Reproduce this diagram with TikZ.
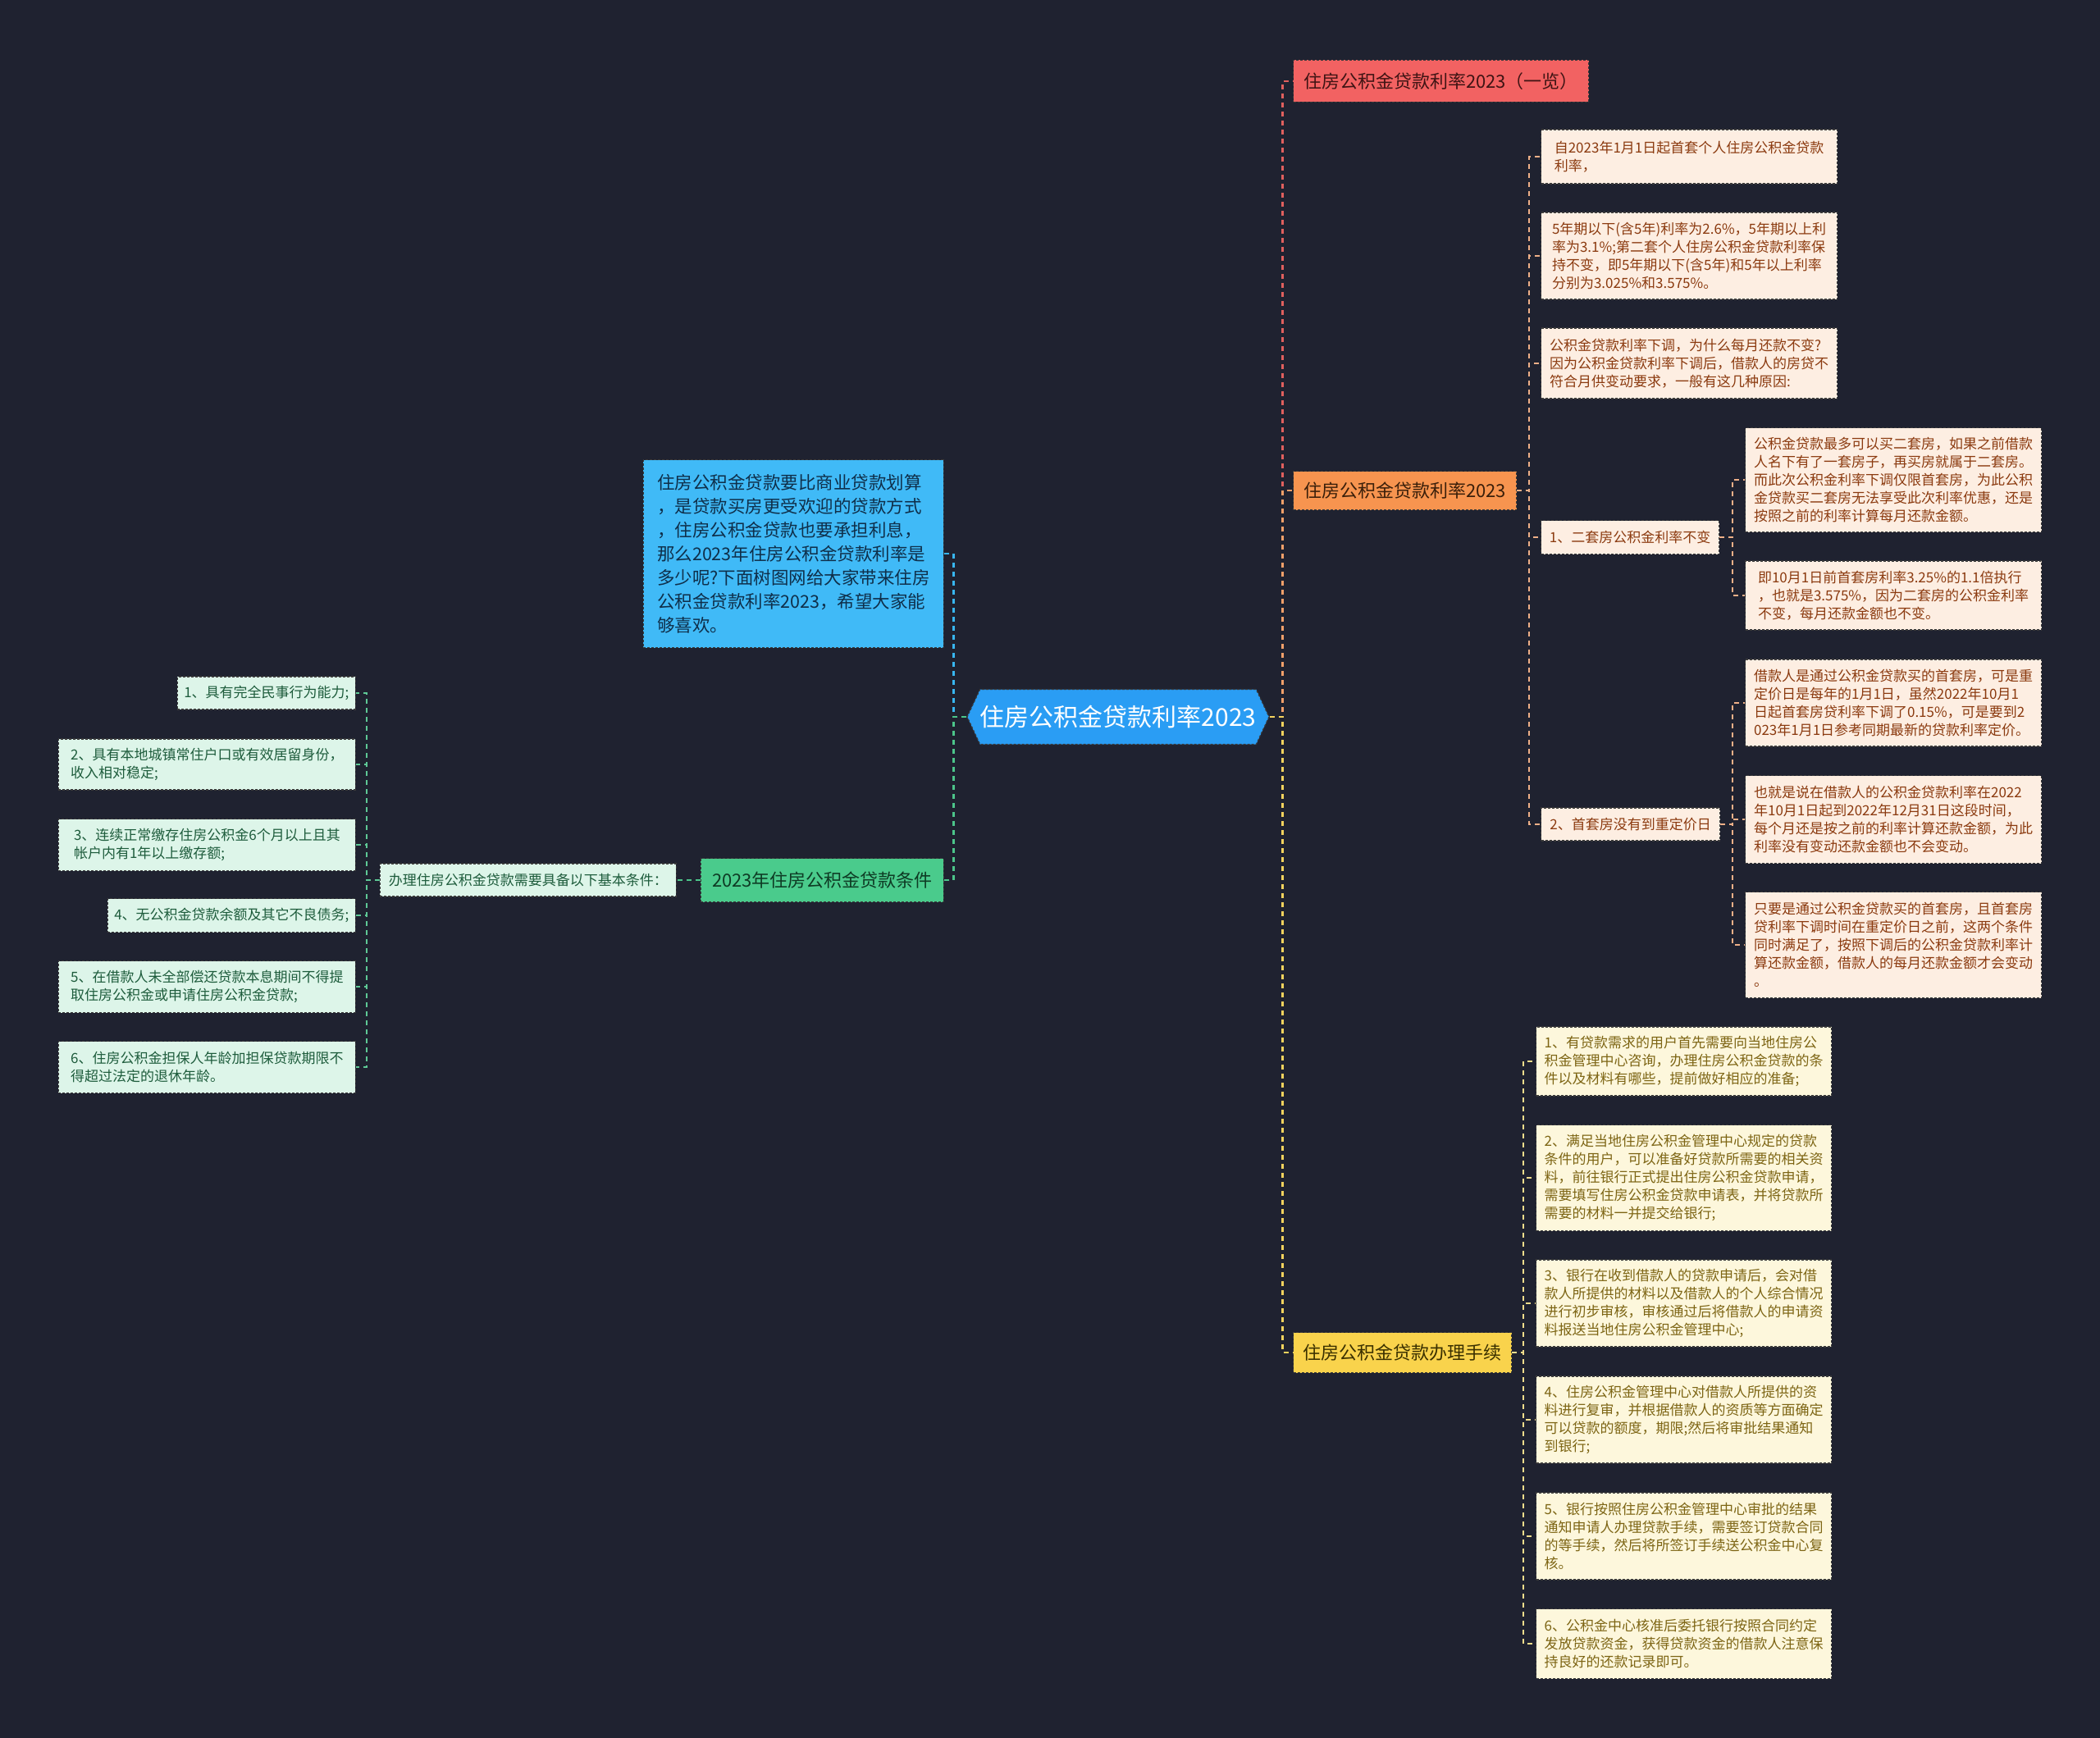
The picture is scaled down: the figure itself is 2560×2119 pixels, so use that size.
\documentclass[tikz,border=0pt]{standalone}
\usepackage{fontspec}
\setmainfont{Noto Sans CJK SC}
\usetikzlibrary{shapes.symbols}
\definecolor{bg}{HTML}{1F2230}
\definecolor{cfill}{HTML}{2A9DF4}
\definecolor{redfill}{HTML}{F26262}
\definecolor{redtext}{HTML}{3F1414}
\definecolor{orafill}{HTML}{F7944F}
\definecolor{oratext}{HTML}{3A1F0A}
\definecolor{yelfill}{HTML}{F9D34C}
\definecolor{yeltext}{HTML}{3A3000}
\definecolor{grnfill}{HTML}{4ACB8C}
\definecolor{grntext}{HTML}{0E3B24}
\definecolor{blufill}{HTML}{40BAF7}
\definecolor{blutext}{HTML}{0F2F4A}
\definecolor{leafOfill}{HTML}{FDEEE2}
\definecolor{leafOtext}{HTML}{8B3A0F}
\definecolor{leafYfill}{HTML}{FDF7DC}
\definecolor{leafYtext}{HTML}{7D6514}
\definecolor{leafGfill}{HTML}{DDF5E9}
\definecolor{leafGtext}{HTML}{1E5C3C}
\definecolor{redline}{HTML}{E0605E}
\definecolor{oraline}{HTML}{F2A06A}
\definecolor{yelline}{HTML}{F4D35E}
\definecolor{bluline}{HTML}{38B6F0}
\definecolor{grnline}{HTML}{4CC58A}
\definecolor{oleafline}{HTML}{EFB088}
\definecolor{yleafline}{HTML}{F3DD8C}
\definecolor{gleafline}{HTML}{5EC996}
\definecolor{edge}{HTML}{3A3A3A}
\newcommand\fsleaf{\fontsize{17}{22}\selectfont}
\newcommand\fsmain{\fontsize{22}{28}\selectfont}
\newcommand\fsblue{\fontsize{21.5}{29}\selectfont}
\newcommand\fscenter{\fontsize{30}{36}\selectfont}
\begin{document}
\begin{tikzpicture}[x=1pt,y=-1pt,
  box/.style={draw=edge, line width=1.1pt, dash pattern=on 3pt off 2pt, align=left, inner xsep=8pt, inner ysep=0pt},
  leafO/.style={box, fill=leafOfill, text=leafOtext, font=\fsleaf, anchor=west},
  leafY/.style={box, fill=leafYfill, text=leafYtext, font=\fsleaf, anchor=west, minimum width=360},
  leafG/.style={box, fill=leafGfill, text=leafGtext, font=\fsleaf, anchor=east},
  mainbox/.style={box, font=\fsmain, align=center},
  conn/.style={line width=2.2pt, dash pattern=on 6pt off 5pt}
]
\fill[bg] (0,0) rectangle (2560,2119);

% center
\node[signal, signal to=west and east, signal pointer angle=130, fill=cfill, draw=edge, line width=1.1pt, dash pattern=on 3pt off 2pt, text=white, font=\fscenter, minimum width=363, minimum height=67, inner sep=0pt] (c) at (1363,874) {住房公积金贷款利率2023};

% main branches right
\node[mainbox, fill=redfill, text=redtext, minimum width=360, minimum height=51, anchor=west] (r) at (1576,99) {住房公积金贷款利率2023（一览）};
\node[mainbox, fill=orafill, text=oratext, minimum width=272, minimum height=47, anchor=west] (o) at (1576,598) {住房公积金贷款利率2023};
\node[mainbox, fill=yelfill, text=yeltext, minimum width=266, minimum height=49, anchor=west] (y) at (1576,1649) {住房公积金贷款办理手续};

% main branches left
\node[box, fill=blufill, text=blutext, font=\fsblue, minimum width=366, minimum height=229, anchor=east] (b) at (1151,675) {住房公积金贷款要比商业贷款划算\\，是贷款买房更受欢迎的贷款方式\\，住房公积金贷款也要承担利息，\\那么2023年住房公积金贷款利率是\\多少呢?下面树图网给大家带来住房\\公积金贷款利率2023，希望大家能\\够喜欢。};
\node[mainbox, fill=grnfill, text=grntext, minimum width=296, minimum height=53, anchor=east] (g) at (1151,1073) {2023年住房公积金贷款条件};
\node[box, fill=leafGfill, text=leafGtext, font=\fsleaf, minimum width=361, minimum height=40, anchor=east] (gl) at (825,1073) {办理住房公积金贷款需要具备以下基本条件：};

% green leaves
\node[leafG, minimum height=40] (L1) at (434,845) {1、具有完全民事行为能力;};
\node[leafG, minimum width=362, minimum height=62] (L2) at (434,932) {2、具有本地城镇常住户口或有效居留身份，\\收入相对稳定;};
\node[leafG, minimum width=362, minimum height=63] (L3) at (434,1030) {3、连续正常缴存住房公积金6个月以上且其\\帐户内有1年以上缴存额;};
\node[leafG, minimum height=41] (L4) at (434,1116) {4、无公积金贷款余额及其它不良债务;};
\node[leafG, minimum width=362, minimum height=63] (L5) at (434,1203) {5、在借款人未全部偿还贷款本息期间不得提\\取住房公积金或申请住房公积金贷款;};
\node[leafG, minimum width=362, minimum height=63] (L6) at (434,1301) {6、住房公积金担保人年龄加担保贷款期限不\\得超过法定的退休年龄。};

% orange leaves
\node[leafO, minimum width=361, minimum height=66] (O1) at (1878,191) {自2023年1月1日起首套个人住房公积金贷款\\利率，};
\node[leafO, minimum width=361, minimum height=106] (O2) at (1878,312) {5年期以下(含5年)利率为2.6\%，5年期以上利\\率为3.1\%;第二套个人住房公积金贷款利率保\\持不变，即5年期以下(含5年)和5年以上利率\\分别为3.025\%和3.575\%。};
\node[leafO, minimum width=361, minimum height=86] (O3) at (1878,443) {公积金贷款利率下调，为什么每月还款不变?\\因为公积金贷款利率下调后，借款人的房贷不\\符合月供变动要求，一般有这几种原因:};
\node[leafO, minimum width=217, minimum height=41] (O4) at (1878,655) {1、二套房公积金利率不变};
\node[leafO, minimum width=361, minimum height=127] (O4a) at (2127,585) {公积金贷款最多可以买二套房，如果之前借款\\人名下有了一套房子，再买房就属于二套房。\\而此次公积金利率下调仅限首套房，为此公积\\金贷款买二套房无法享受此次利率优惠，还是\\按照之前的利率计算每月还款金额。};
\node[leafO, minimum width=361, minimum height=84] (O4b) at (2127,726) {即10月1日前首套房利率3.25\%的1.1倍执行\\，也就是3.575\%，因为二套房的公积金利率\\不变，每月还款金额也不变。};
\node[leafO, minimum width=218, minimum height=40] (O5) at (1878,1005) {2、首套房没有到重定价日};
\node[leafO, minimum width=361, minimum height=106] (O5a) at (2127,857) {借款人是通过公积金贷款买的首套房，可是重\\定价日是每年的1月1日，虽然2022年10月1\\日起首套房贷利率下调了0.15\%，可是要到2\\023年1月1日参考同期最新的贷款利率定价。};
\node[leafO, minimum width=361, minimum height=107] (O5b) at (2127,999) {也就是说在借款人的公积金贷款利率在2022\\年10月1日起到2022年12月31日这段时间，\\每个月还是按之前的利率计算还款金额，为此\\利率没有变动还款金额也不会变动。};
\node[leafO, minimum width=361, minimum height=129] (O5c) at (2127,1152) {只要是通过公积金贷款买的首套房，且首套房\\贷利率下调时间在重定价日之前，这两个条件\\同时满足了，按照下调后的公积金贷款利率计\\算还款金额，借款人的每月还款金额才会变动\\。};

% yellow leaves
\node[leafY, minimum height=84] (Y1) at (1872,1294) {1、有贷款需求的用户首先需要向当地住房公\\积金管理中心咨询，办理住房公积金贷款的条\\件以及材料有哪些，提前做好相应的准备;};
\node[leafY, minimum height=129] (Y2) at (1872,1436) {2、满足当地住房公积金管理中心规定的贷款\\条件的用户，可以准备好贷款所需要的相关资\\料，前往银行正式提出住房公积金贷款申请，\\需要填写住房公积金贷款申请表，并将贷款所\\需要的材料一并提交给银行;};
\node[leafY, minimum height=106] (Y3) at (1872,1589) {3、银行在收到借款人的贷款申请后，会对借\\款人所提供的材料以及借款人的个人综合情况\\进行初步审核，审核通过后将借款人的申请资\\料报送当地住房公积金管理中心;};
\node[leafY, minimum height=106] (Y4) at (1872,1731) {4、住房公积金管理中心对借款人所提供的资\\料进行复审，并根据借款人的资质等方面确定\\可以贷款的额度，期限;然后将审批结果通知\\到银行;};
\node[leafY, minimum height=106] (Y5) at (1872,1873) {5、银行按照住房公积金管理中心审批的结果\\通知申请人办理贷款手续，需要签订贷款合同\\的等手续，然后将所签订手续送公积金中心复\\核。};
\node[leafY, minimum height=85] (Y6) at (1872,2004) {6、公积金中心核准后委托银行按照合同约定\\发放贷款资金，获得贷款资金的借款人注意保\\持良好的还款记录即可。};

% connectors
\draw[conn, redline] (c.east) -- ++(16,0) |- (r.west);
\draw[conn, oraline] (c.east) -- ++(16,0) |- (o.west);
\draw[conn, yelline] (c.east) -- ++(16,0) |- (y.west);
\draw[conn, bluline] (c.west) -- ++(-16,0) |- (b.east);
\draw[conn, grnline] (c.west) -- ++(-16,0) |- (g.east);
\draw[conn, grnline] (g.west) -- (gl.east);
\foreach \n in {L1,L2,L3,L4,L5,L6}
  \draw[conn, gleafline] (gl.west) -- ++(-16,0) |- (\n.east);
\foreach \n in {O1,O2,O3,O4,O5}
  \draw[conn, oleafline] (o.east) -- ++(15,0) |- (\n.west);
\foreach \n in {O4a,O4b}
  \draw[conn, oleafline] (O4.east) -- ++(16,0) |- (\n.west);
\foreach \n in {O5a,O5b,O5c}
  \draw[conn, oleafline] (O5.east) -- ++(15,0) |- (\n.west);
\foreach \n in {Y1,Y2,Y3,Y4,Y5,Y6}
  \draw[conn, yleafline] (y.east) -- ++(14,0) |- (\n.west);
\end{tikzpicture}
\end{document}
